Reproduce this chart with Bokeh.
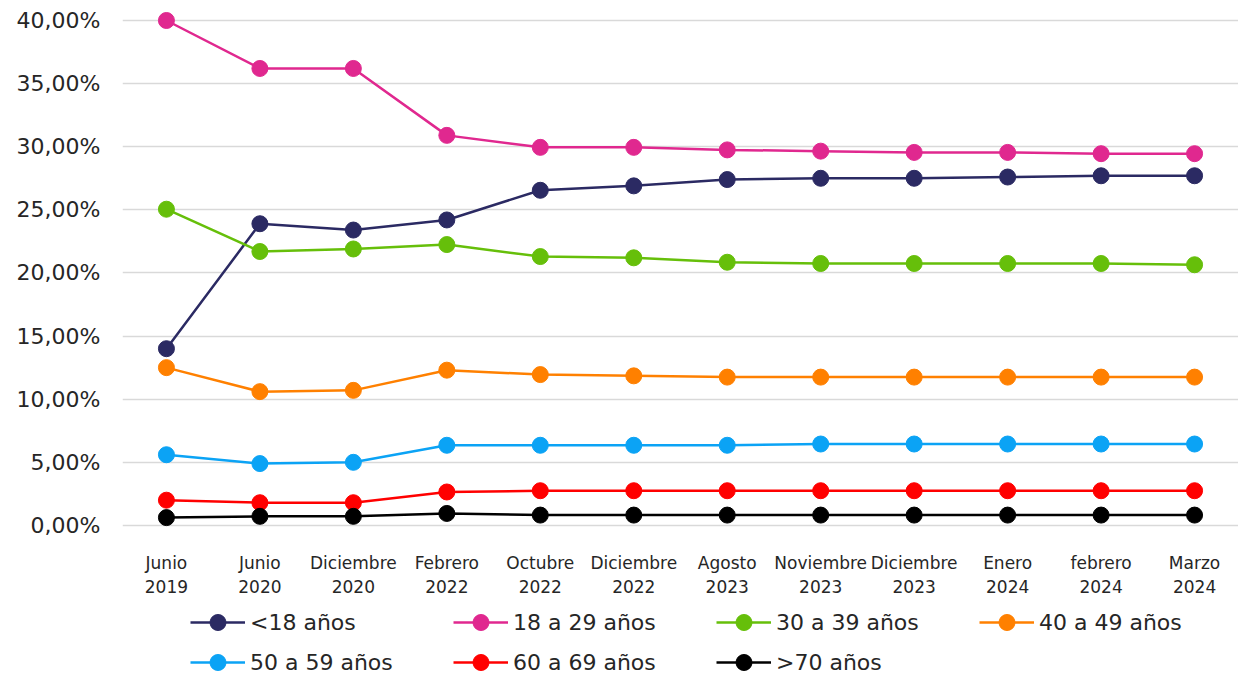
from bokeh.plotting import figure
from bokeh.models import Range1d, FixedTicker, CustomJSTickFormatter, Legend, LegendItem
from bokeh.layouts import column
from bokeh.embed import file_html
from bokeh.resources import INLINE

categories = ["Junio\n2019", "Junio\n2020", "Diciembre\n2020", "Febrero\n2022", "Octubre\n2022",
              "Diciembre\n2022", "Agosto\n2023", "Noviembre\n2023", "Diciembre\n2023", "Enero\n2024",
              "febrero\n2024", "Marzo\n2024"]

menor_18 = [14.0, 23.9, 23.4, 24.2, 26.55, 26.9, 27.4, 27.5, 27.5, 27.6, 27.7, 27.7]
de_18_29 = [40.0, 36.2, 36.2, 30.9, 29.95, 29.95, 29.75, 29.65, 29.55, 29.55, 29.45, 29.45]
de_30_39 = [25.05, 21.7, 21.9, 22.25, 21.3, 21.2, 20.85, 20.75, 20.75, 20.75, 20.75, 20.65]
de_40_49 = [12.5, 10.6, 10.7, 12.3, 11.95, 11.85, 11.75, 11.75, 11.75, 11.75, 11.75, 11.75]
de_50_59 = [5.6, 4.9, 5.0, 6.35, 6.35, 6.35, 6.35, 6.45, 6.45, 6.45, 6.45, 6.45]
de_60_69 = [2.0, 1.8, 1.8, 2.65, 2.75, 2.75, 2.75, 2.75, 2.75, 2.75, 2.75, 2.75]
mayor_70 = [0.62, 0.72, 0.72, 0.95, 0.82, 0.82, 0.82, 0.82, 0.82, 0.82, 0.82, 0.82]

series = [
    ("<18 años", menor_18, "#2B2A63"),
    ("18 a 29 años", de_18_29, "#E0288F"),
    ("30 a 39 años", de_30_39, "#66BF0A"),
    ("40 a 49 años", de_40_49, "#FF8000"),
    ("50 a 59 años", de_50_59, "#0BA3F5"),
    ("60 a 69 años", de_60_69, "#FF0000"),
    (">70 años", mayor_70, "#000000"),
]

FONT = "DejaVu Sans"
TXT = "#262626"

x = list(range(len(categories)))

p = figure(width=1238, height=599, output_backend="svg", toolbar_location=None,
           x_range=Range1d(-0.47, len(categories) - 1 + 0.47),
           y_range=Range1d(-0.48, 40.95),
           min_border_left=122, min_border_right=0, min_border_top=8, min_border_bottom=60)
p.outline_line_color = None
p.background_fill_color = "white"

p.xgrid.grid_line_color = None
p.ygrid.ticker = FixedTicker(ticks=[0, 5, 10, 15, 20, 25, 30, 35, 40])
p.ygrid.grid_line_color = "#D9D9D9"
p.ygrid.grid_line_width = 1.5

p.yaxis.ticker = FixedTicker(ticks=[0, 5, 10, 15, 20, 25, 30, 35, 40])
p.yaxis.formatter = CustomJSTickFormatter(code="return tick.toFixed(2).replace('.', ',') + '%';")
p.yaxis.axis_line_color = None
p.yaxis.major_tick_line_color = None
p.yaxis.minor_tick_line_color = None
p.yaxis.major_label_text_font = FONT
p.yaxis.major_label_text_font_size = "22px"
p.yaxis.major_label_text_color = TXT
p.yaxis.major_label_standoff = 16

p.xaxis.ticker = FixedTicker(ticks=x)
p.xaxis.major_label_overrides = {i: c for i, c in enumerate(categories)}
p.xaxis.axis_line_color = None
p.xaxis.major_tick_line_color = None
p.xaxis.minor_tick_line_color = None
p.xaxis.major_label_text_font = FONT
p.xaxis.major_label_text_font_size = "17px"
p.xaxis.major_label_text_color = TXT
p.xaxis.major_label_standoff = 15

for name, vals, color in series:
    p.line(x, vals, line_color=color, line_width=2.5)
    p.scatter(x, vals, size=16, fill_color=color, line_color=color)

# legend figure (its own copies of the series, kept outside its visible range)
lf = figure(width=1238, height=77, output_backend="svg", toolbar_location=None,
            x_range=Range1d(100, 101), y_range=Range1d(100, 101),
            min_border_left=0, min_border_right=0, min_border_top=0, min_border_bottom=0)
lf.axis.visible = False
lf.grid.visible = False
lf.outline_line_color = None

items = []
for name, vals, color in series:
    l = lf.line(x, vals, line_color=color, line_width=2.5)
    s = lf.scatter(x, vals, size=16, fill_color=color, line_color=color)
    items.append(LegendItem(label=name, renderers=[l, s]))

legend = Legend(items=items, orientation="horizontal", ncols=4,
                label_text_font=FONT, label_text_font_size="22px", label_text_color=TXT,
                glyph_width=55, glyph_height=40, label_height=40, label_width=203, spacing=0,
                label_standoff=5, border_line_color=None, background_fill_alpha=0,
                location=(68, -6), margin=0, padding=0)
lf.add_layout(legend, "center")

layout = column(p, lf, spacing=0)
open("out.html", "w").write(file_html(layout, INLINE))
